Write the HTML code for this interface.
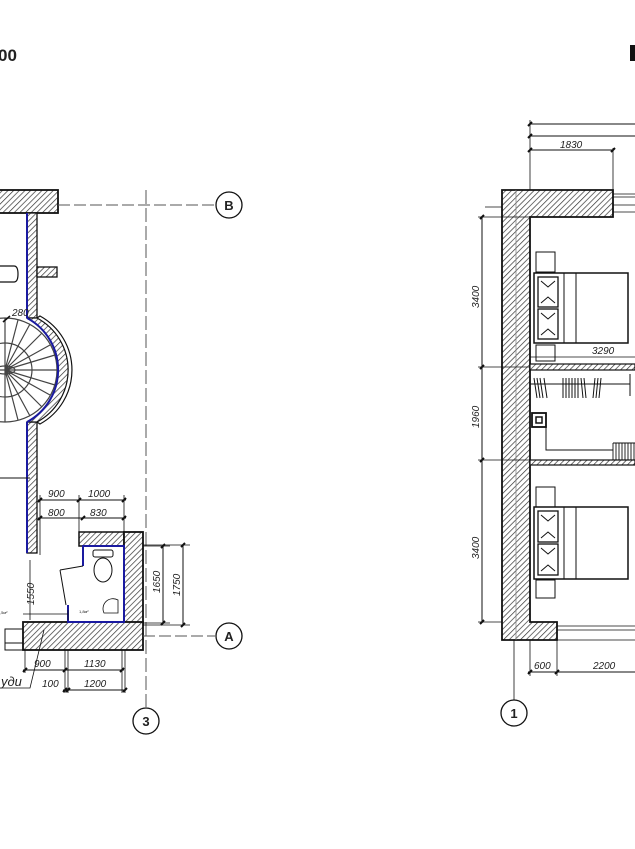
<!DOCTYPE html>
<html><head><meta charset="utf-8"><style>
html,body{margin:0;padding:0;background:#fff;}
svg{display:block;}
text{font-family:"Liberation Sans",sans-serif;fill:#222;}
.dim{font-size:10px;font-style:italic;}
</style></head><body>
<svg width="635" height="849" viewBox="0 0 635 849" xmlns="http://www.w3.org/2000/svg">
<defs>
<pattern id="h" width="4" height="4" patternUnits="userSpaceOnUse" patternTransform="rotate(45)">
<rect width="4" height="4" fill="#fff"/><line x1="0" y1="0" x2="0" y2="4" stroke="#333" stroke-width="1.4"/>
</pattern>
</defs>
<g stroke="#111" fill="none" stroke-width="1">
<text x="-2" y="61" style="font-size:17px;font-weight:bold" stroke="none">00</text>

<!-- ===== LEFT PLAN ===== -->
<rect x="-2" y="190" width="60" height="23" fill="url(#h)" stroke-width="1.8"/>
<line x1="58" y1="205" x2="215" y2="205" stroke-dasharray="12,4" stroke="#555"/>
<circle cx="229" cy="205" r="13" stroke-width="1.3" fill="#fff"/>
<text x="229" y="210" text-anchor="middle" style="font-size:13px;font-weight:bold" stroke="none">B</text>
<rect x="27" y="213" width="10" height="105" fill="url(#h)" stroke-width="1.3"/>
<rect x="27" y="422" width="10" height="131" fill="url(#h)" stroke-width="1.3"/>
<rect x="37" y="267" width="20" height="10" fill="url(#h)" stroke-width="1.3"/>
<path d="M-2 266 H14 Q18 266 18 274 Q18 282 14 282 H-2" stroke-width="1.2"/>
<!-- spiral stair -->
<g stroke="#444" stroke-width="1.2">
<circle cx="5" cy="370" r="52"/>
<circle cx="5" cy="370" r="27"/>
<ellipse cx="5" cy="370" rx="10" ry="4"/>
<path d="M5 318V422M-47 370H57M5 370L55 355M5 370L55 385M5 370L50 345M5 370L50 395M5 370L42 333M5 370L42 407M5 370L30 324M5 370L30 416M5 370L18 320M5 370L18 420"/>
</g>
<!-- bulge -->
<path d="M27 318 A59 59 0 0 1 27 422 L37 422 A59 59 0 0 0 37 318 Z" fill="url(#h)" stroke="#111" stroke-width="1.2"/>
<path d="M37 318 L40 316 A61.6 61.6 0 0 1 40 424 L37 422" stroke-width="1.2"/>
<line x1="27" y1="213" x2="27" y2="318" stroke="#1a1aa0" stroke-width="2"/>
<line x1="27" y1="422" x2="27" y2="553" stroke="#1a1aa0" stroke-width="2"/>
<path d="M27 318 A59 59 0 0 1 27 422" stroke="#1a1aa0" stroke-width="2"/>
<path d="M3 322L10 316" stroke-width="1.5"/>
<text x="12" y="316" class="dim" stroke="none">280</text>
<line x1="-2" y1="478" x2="30" y2="478" stroke-width="1"/>
<line x1="146" y1="190" x2="146" y2="707" stroke-dasharray="14,4" stroke="#555"/>
<circle cx="146" cy="721" r="13" stroke-width="1.3" fill="#fff"/>
<text x="146" y="726" text-anchor="middle" style="font-size:13px;font-weight:bold" stroke="none">3</text>
<line x1="38" y1="500" x2="126" y2="500"/>
<line x1="38" y1="518" x2="126" y2="518"/>
<path d="M40 495V555M79 495V535M124 495V535" stroke-width="0.8"/>
<g stroke-width="2"><path d="M38 502l4-4M77 502l4-4M122 502l4-4M38 520l4-4M81 520l4-4M122 520l4-4"/></g>
<text x="48" y="497" class="dim" stroke="none">900</text>
<text x="88" y="497" class="dim" stroke="none">1000</text>
<text x="48" y="516" class="dim" stroke="none">800</text>
<text x="90" y="516" class="dim" stroke="none">830</text>
<rect x="79" y="532" width="45" height="14" fill="url(#h)" stroke-width="1.5"/>
<rect x="124" y="532" width="19" height="93" fill="url(#h)" stroke-width="1.8"/>
<rect x="23" y="622" width="120" height="28" fill="url(#h)" stroke-width="1.8"/>
<rect x="5" y="629" width="18" height="21" stroke-width="1"/>
<line x1="5" y1="643" x2="23" y2="643"/>
<path d="M83 566V546H124V622H68V605" stroke="#1a1aa0" stroke-width="2"/>
<path d="M60 570L66 605M60 570L83 566" stroke-width="1"/>
<rect x="93" y="550" width="20" height="7" rx="2"/>
<ellipse cx="103" cy="570" rx="9" ry="12"/>
<path d="M104 613A10 10 0 0 1 118 600V613Z" stroke-width="0.8"/>
<text x="79" y="613" style="font-size:4px" stroke="none">1,8м²</text>
<text x="0" y="614" style="font-size:4px" stroke="none">,5м²</text>
<path d="M30 560V620M68 610V620M23 614H68" stroke-width="0.8"/>
<text x="34" y="605" class="dim" transform="rotate(-90 34 605)" stroke="none">1550</text>
<path d="M143 546H170M143 623H170M143 545H190M143 625H190" stroke-width="0.8"/>
<line x1="163" y1="546" x2="163" y2="623"/>
<line x1="183" y1="545" x2="183" y2="625"/>
<g stroke-width="2"><path d="M161 548l4-4M161 625l4-4M181 547l4-4M181 627l4-4"/></g>
<text x="160" y="593" class="dim" transform="rotate(-90 160 593)" stroke="none">1650</text>
<text x="180" y="596" class="dim" transform="rotate(-90 180 596)" stroke="none">1750</text>
<line x1="143" y1="636" x2="215" y2="636" stroke-dasharray="12,4" stroke="#555"/>
<circle cx="229" cy="636" r="13" stroke-width="1.3" fill="#fff"/>
<text x="229" y="641" text-anchor="middle" style="font-size:13px;font-weight:bold" stroke="none">A</text>
<path d="M25 650V673M65 650V693M68 650V693M122 650V693M125 650V693" stroke-width="0.8"/>
<line x1="23" y1="670" x2="124" y2="670"/>
<line x1="63" y1="690" x2="126" y2="690"/>
<g stroke-width="2"><path d="M23 672l4-4M63 672l4-4M120 672l4-4M63 692l4-4M66 692l4-4M123 692l4-4"/></g>
<text x="34" y="667" class="dim" stroke="none">900</text>
<text x="84" y="667" class="dim" stroke="none">1130</text>
<text x="42" y="687" class="dim" stroke="none">100</text>
<text x="84" y="687" class="dim" stroke="none">1200</text>
<path d="M44 630L30 688H0" stroke-width="0.8"/>
<text x="1" y="686" style="font-size:13px;font-style:italic" stroke="none">уди</text>

<!-- ===== RIGHT PLAN ===== -->
<path d="M530 124H635M530 136H635M530 150H613" stroke-width="1"/>
<path d="M530 120V190M613 148V190" stroke-width="0.8"/>
<g stroke-width="2"><path d="M528 126l4-4M528 138l4-4M528 152l4-4M611 152l4-4"/></g>
<text x="560" y="148" class="dim" stroke="none">1830</text>
<path d="M502 190H613V217H530V622H557V640H502Z" fill="url(#h)" stroke-width="1.8"/>
<path d="M516 190V640" stroke="#888" stroke-width="0.8"/>
<path d="M613 194H635M613 197H635M613 205H635M613 212H635M485 207H502" stroke-width="0.8"/>
<path d="M557 626H635M557 630H635M557 640H635" stroke-width="0.8"/>
<rect x="530" y="364" width="105" height="6" fill="url(#h)" stroke-width="1.2"/>
<rect x="530" y="460" width="105" height="5" fill="url(#h)" stroke-width="1.2"/>
<line x1="482" y1="217" x2="482" y2="622"/>
<path d="M478 217H530M478 367H530M478 460H530M478 622H502" stroke-width="0.8"/>
<g stroke-width="2"><path d="M480 219l4-4M480 369l4-4M480 462l4-4M480 624l4-4"/></g>
<text x="479" y="308" class="dim" transform="rotate(-90 479 308)" stroke="none">3400</text>
<text x="479" y="428" class="dim" transform="rotate(-90 479 428)" stroke="none">1960</text>
<text x="479" y="559" class="dim" transform="rotate(-90 479 559)" stroke="none">3400</text>
<rect x="536" y="252" width="19" height="20"/>
<rect x="536" y="345" width="19" height="16"/>
<rect x="534" y="273" width="94" height="70" stroke-width="1.5"/>
<line x1="576" y1="273" x2="576" y2="343"/>
<line x1="564" y1="273" x2="564" y2="343"/>
<rect x="538" y="277" width="20" height="30" stroke-width="1.3"/>
<rect x="538" y="309" width="20" height="30" stroke-width="1.3"/>
<path d="M541 281L548 287L555 281M541 303L548 297L555 303M541 313L548 319L555 313M541 335L548 329L555 335"/>
<line x1="530" y1="357" x2="635" y2="357" stroke-width="0.8"/>
<text x="592" y="354" class="dim" stroke="none">3290</text>
<line x1="530" y1="384" x2="630" y2="384"/>
<g stroke-width="1"><path d="M534 378l3 20M537 378l3 20M540 378l3 20M544 378l3 20M563 378v20M566 378v20M569 378v20M572 378v20M575 378v20M578 378v20M581 378l2 20M584 378l2 20M595 378l-2 20M598 378l-2 20M601 378l-2 20M630 374v22"/></g>
<rect x="532" y="413" width="14" height="14" stroke-width="1.8"/>
<rect x="536" y="417" width="6" height="6" stroke-width="1.5"/>
<path d="M546 427V450H613" stroke-width="1"/>
<g stroke-width="0.9"><path d="M613 443V460M616 443V460M619 443V460M622 443V460M625 443V460M628 443V460M631 443V460M634 443V460M613 443H635"/></g>
<rect x="536" y="487" width="19" height="20"/>
<rect x="536" y="580" width="19" height="18"/>
<rect x="534" y="507" width="94" height="72" stroke-width="1.5"/>
<line x1="576" y1="507" x2="576" y2="579"/>
<line x1="564" y1="507" x2="564" y2="579"/>
<rect x="538" y="511" width="20" height="31" stroke-width="1.3"/>
<rect x="538" y="544" width="20" height="31" stroke-width="1.3"/>
<path d="M541 515L548 521L555 515M541 538L548 532L555 538M541 548L548 554L555 548M541 571L548 565L555 571"/>
<path d="M530 640V676M557 640V676" stroke-width="0.8"/>
<line x1="528" y1="672" x2="635" y2="672"/>
<g stroke-width="2"><path d="M528 674l4-4M555 674l4-4"/></g>
<text x="534" y="669" class="dim" stroke="none">600</text>
<text x="593" y="669" class="dim" stroke="none">2200</text>
<line x1="514" y1="640" x2="514" y2="700" stroke-width="0.8"/>
<circle cx="514" cy="713" r="13" stroke-width="1.3" fill="#fff"/>
<text x="514" y="718" text-anchor="middle" style="font-size:13px;font-weight:bold" stroke="none">1</text>
<rect x="630" y="45" width="5" height="16" fill="#111" stroke="none"/>
</g>
</svg>
</body></html>
